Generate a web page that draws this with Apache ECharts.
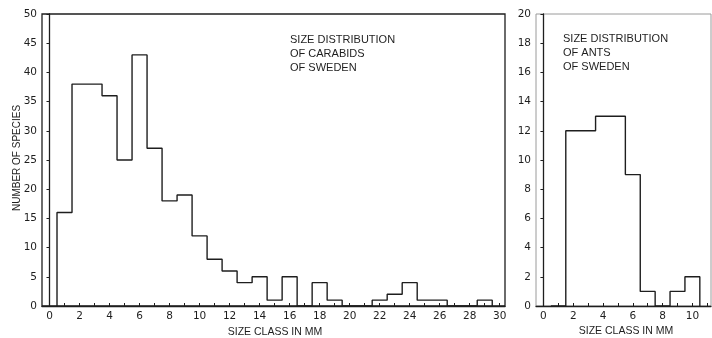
<!DOCTYPE html>
<html>
<head>
<meta charset="utf-8">
<script src="https://cdn.jsdelivr.net/npm/echarts@6/dist/echarts.min.js"></script>
<style>
  html, body { margin: 0; padding: 0; background: #fff; }
  #chart { width: 712px; height: 338px; }
</style>
</head>
<body>
<div id="chart"></div>
<script>
// Carabids: species count per 1 mm size class (class centres in mm)
const carabidClasses = [1,2,3,4,5,6,7,8,9,10,11,12,13,14,15,16,17,18,19,20,21,22,23,24,25,26,27,28,29];
const carabidCounts  = [16,38,38,36,25,43,27,18,19,12,8,6,4,5,1,5,0,4,1,0,0,1,2,4,1,1,0,0,1];

// Ants: species count per 1 mm size class
const antClasses = [1,2,3,4,5,6,7,8,9,10];
const antCounts  = [0,12,12,13,13,9,1,0,1,2];

// Axis tick labels
const carabidXLabels = [0,2,4,6,8,10,12,14,16,18,20,22,24,26,28,30];
const carabidXTicks  = Array.from({length: 31}, (_, i) => i);
const antXLabels = [0,2,4,6,8,10];
const antXTicks  = [0,1,2,3,4,5,6,7,8,9,10,11];

// Turn class counts into the outline of a histogram (steps at class edges)
function outline(classes, counts) {
  const pts = [[classes[0] - 0.5, 0]];
  classes.forEach((c, i) => {
    pts.push([c - 0.5, counts[i]]);
    pts.push([c + 0.5, counts[i]]);
  });
  pts.push([classes[classes.length - 1] + 0.5, 0]);
  return pts;
}

const ink = '#1e1e1e';
const labelFont = { color: ink, fontFamily: 'DejaVu Sans', fontSize: 10.5 };

const chart = echarts.init(document.getElementById('chart'), null, { renderer: 'canvas' });

function xAxisFor(gridIndex, min, max, labels, ticks) {
  return {
    type: 'value', gridIndex, min, max,
    axisLine: { show: true, lineStyle: { color: ink, width: 1.3 } },
    axisTick: { show: true, inside: true, length: 3, customValues: ticks, lineStyle: { color: ink } },
    axisLabel: Object.assign({ customValues: labels, margin: 5 }, labelFont),
    splitLine: { show: false }
  };
}
function yAxisFor(gridIndex, max, interval) {
  return {
    type: 'value', gridIndex, min: 0, max, interval,
    axisLine: { show: true, lineStyle: { color: ink, width: 1.3 } },
    axisTick: { show: true, length: 3, lineStyle: { color: ink } },
    axisLabel: Object.assign({ margin: 5 }, labelFont),
    splitLine: { show: false }
  };
}

const titleStyle = (x, y, text) => ({
  type: 'text', left: x, top: y,
  style: { text, fill: ink, font: '11px "Liberation Sans", Arial, sans-serif', lineHeight: 14 }
});

chart.setOption({
  animation: false,
  backgroundColor: '#fff',
  grid: [
    { left: 42, top: 14, width: 463, height: 292, show: true, borderColor: ink, borderWidth: 1.3, backgroundColor: 'transparent' },
    { left: 536, top: 14, width: 175, height: 292, show: true, borderColor: '#9a9a9a', borderWidth: 1, backgroundColor: 'transparent' }
  ],
  xAxis: [
    xAxisFor(0, -0.5, 30.35, carabidXLabels, carabidXTicks),
    xAxisFor(1, -0.5, 11.25, antXLabels, antXTicks)
  ],
  yAxis: [
    yAxisFor(0, 50, 5),
    yAxisFor(1, 20, 2)
  ],
  series: [
    {
      type: 'line', xAxisIndex: 0, yAxisIndex: 0,
      data: outline(carabidClasses, carabidCounts),
      symbol: 'none', lineStyle: { color: ink, width: 1.4 }
    },
    {
      type: 'line', xAxisIndex: 1, yAxisIndex: 1,
      data: outline(antClasses, antCounts),
      symbol: 'none', lineStyle: { color: ink, width: 1.4 }
    }
  ],
  graphic: [
    titleStyle(290, 33, 'SIZE DISTRIBUTION\nOF CARABIDS\nOF SWEDEN'),
    titleStyle(563, 32, 'SIZE DISTRIBUTION\nOF ANTS\nOF SWEDEN'),
    {
      type: 'text', x: 17, y: 158, rotation: Math.PI / 2,
      style: { text: 'NUMBER OF SPECIES', fill: ink, font: '10px "Liberation Sans", Arial, sans-serif', align: 'center', verticalAlign: 'middle' }
    },
    {
      type: 'text', x: 275, y: 332,
      style: { text: 'SIZE CLASS IN MM', fill: ink, font: '10.5px "Liberation Sans", Arial, sans-serif', align: 'center', verticalAlign: 'middle' }
    },
    {
      type: 'text', x: 626, y: 331,
      style: { text: 'SIZE CLASS IN MM', fill: ink, font: '10.5px "Liberation Sans", Arial, sans-serif', align: 'center', verticalAlign: 'middle' }
    }
  ]
});
</script>
</body>
</html>
